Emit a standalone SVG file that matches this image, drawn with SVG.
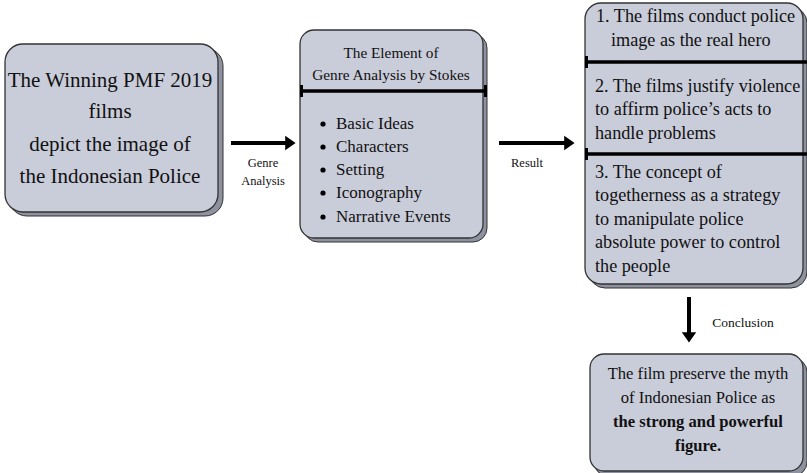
<svg xmlns="http://www.w3.org/2000/svg" width="807" height="473" viewBox="0 0 807 473">
<defs>
<style>
.sh{fill:#8e92a0;stroke:#333;stroke-width:1}
.bx{fill:#c9ccd9;stroke:#333;stroke-width:1.3}
.t{font-family:"Liberation Serif","Times New Roman",serif;fill:#111}
.sep{stroke:#000;stroke-width:3.5}
.cap{fill:#000}
.con{stroke:#000;stroke-width:4;fill:none}
</style>
<marker id="ah" markerWidth="4" markerHeight="4" refX="1.2" refY="2" orient="auto" markerUnits="strokeWidth">
<path d="M0,0.2 L2.6,2 L0,3.8 Z" fill="#000"/>
</marker>
</defs>
<rect width="807" height="473" fill="#fff"/>

<g id="node-films">
<rect class="sh" x="9" y="48" width="214" height="168" rx="18"/>
<rect class="bx" x="5" y="44" width="213" height="168" rx="18"/>
<g class="t" font-size="21" text-anchor="middle">
<text x="110" y="87">The Winning PMF 2019</text>
<text x="110" y="118">films</text>
<text x="110" y="151">depict the image of</text>
<text x="110" y="183">the Indonesian  Police</text>
</g>
</g>

<g id="node-genre">
<rect class="sh" x="304" y="34" width="183" height="208" rx="14"/>
<rect class="bx" x="300" y="30" width="183" height="208" rx="14"/>
<line class="sep" x1="302" y1="91" x2="485" y2="91"/>
<rect class="cap" x="300" y="85" width="3" height="12"/>
<rect class="cap" x="484" y="85" width="3" height="12"/>
<g class="t" font-size="15.3" text-anchor="middle">
<text x="391" y="58">The Element of</text>
<text x="391" y="80">Genre Analysis by Stokes</text>
</g>
<g class="t" font-size="17">
<circle cx="323" cy="124" r="2.6" fill="#000"/><text x="336" y="129">Basic Ideas</text>
<circle cx="323" cy="147" r="2.6" fill="#000"/><text x="336" y="152">Characters</text>
<circle cx="323" cy="170" r="2.6" fill="#000"/><text x="336" y="175">Setting</text>
<circle cx="323" cy="193" r="2.6" fill="#000"/><text x="336" y="198">Iconography</text>
<circle cx="323" cy="217" r="2.6" fill="#000"/><text x="336" y="222">Narrative Events</text>
</g>
</g>

<g id="node-results">
<rect class="sh" x="589" y="7" width="218" height="281" rx="16"/>
<rect class="bx" x="585" y="3" width="218" height="281" rx="16"/>
<line class="sep" x1="587" y1="62" x2="807" y2="62"/>
<rect class="cap" x="585" y="56" width="3" height="12"/>
<line class="sep" x1="587" y1="154" x2="807" y2="154"/>
<rect class="cap" x="585" y="148" width="3" height="12"/>
<g class="t" font-size="18.2">
<text x="596" y="22">1. The films conduct police</text>
<text x="611" y="46">image as the real hero</text>
<text x="595" y="92">2. The films justify violence</text>
<text x="595" y="115">to affirm police’s acts to</text>
<text x="595" y="139">handle problems</text>
<text x="595" y="178">3. The concept of</text>
<text x="595" y="201">togetherness as a strategy</text>
<text x="595" y="225">to manipulate police</text>
<text x="595" y="248">absolute power to control</text>
<text x="595" y="272">the people</text>
</g>
</g>

<g id="node-conclusion">
<rect class="sh" x="594" y="358" width="213" height="118" rx="14"/>
<rect class="bx" x="590" y="354" width="213" height="117" rx="14"/>
<g class="t" font-size="16.6" text-anchor="middle">
<text x="698" y="379">The film preserve the myth</text>
<text x="698" y="403">of Indonesian Police as</text>
<text x="698" y="427" font-weight="bold">the strong and powerful</text>
<text x="698" y="451" font-weight="bold">figure.</text>
</g>
</g>

<g id="connectors">
<line class="con" x1="231" y1="143" x2="290" y2="143" marker-end="url(#ah)"/>
<line class="con" x1="499" y1="143" x2="569" y2="143" marker-end="url(#ah)"/>
<line class="con" x1="689" y1="297" x2="689" y2="337" marker-end="url(#ah)"/>
<g class="t" font-size="12.5" text-anchor="middle">
<text x="263" y="167">Genre</text>
<text x="263" y="185">Analysis</text>
<text x="527" y="167">Result</text>
<text x="743" y="327" font-size="13.5">Conclusion</text>
</g>
</g>
</svg>
